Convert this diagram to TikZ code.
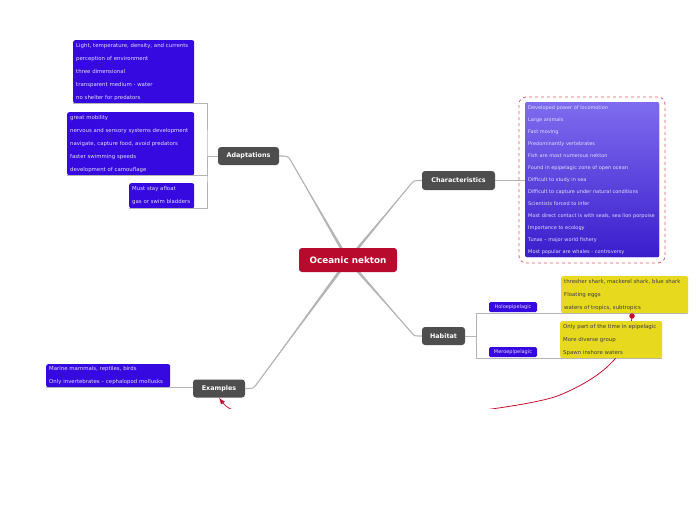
\documentclass[tikz,border=0pt]{standalone}
\usepackage{fontspec}
\setmainfont{DejaVu Sans}
\usetikzlibrary{arrows.meta,calc}
\usepackage{xcolor}
\definecolor{rootred}{HTML}{B80A2C}
\definecolor{topicgray}{HTML}{4E4E4E}
\definecolor{leafblue}{HTML}{3609E0}
\definecolor{leaftext}{HTML}{E2DCFF}
\definecolor{noteyellow}{HTML}{E6D91E}
\definecolor{branchgray}{HTML}{B4B4B4}
\definecolor{relred}{HTML}{C8102E}
\definecolor{violettop}{HTML}{7E6CEF}
\definecolor{violetmid}{HTML}{4E36DA}
\definecolor{violetbot}{HTML}{3A1DCC}

\begin{document}
\begin{tikzpicture}[x=1pt, y=-1pt, >=Latex,
  root/.style={rounded corners=3pt, fill=rootred, text=white, inner sep=0pt,
    minimum width=98, minimum height=24, font=\fontsize{8.8}{9}\selectfont\bfseries},
  topic/.style={rounded corners=3pt, fill=topicgray, text=white, inner sep=0pt,
    minimum height=18, font=\fontsize{6.4}{7}\selectfont\bfseries},
  leafbox/.style={anchor=north west, rounded corners=2pt, fill=leafblue, text=leaftext,
    align=left, inner xsep=3pt, inner ysep=0pt, font=\fontsize{5.4}{13}\selectfont},
  notebox/.style={leafbox, fill=noteyellow, text=black!75},
  subtopic/.style={rounded corners=1.5pt, fill=leafblue, text=leaftext, inner sep=0pt,
    minimum width=48, minimum height=10, font=\fontsize{5}{6}\selectfont},
  charnote/.style={leafbox, top color=violettop, middle color=violetmid, bottom color=violetbot,
    font=\fontsize{5}{12}\selectfont},
  frame/.style={draw=relred!70, dashed, line width=0.8pt, rounded corners=7pt,
    minimum width=146, minimum height=166, inner sep=0pt},
  branch/.style={draw=branchgray, line width=1.1pt},
  taper/.style={fill=branchgray},
  twig/.style={draw=branchgray, line width=0.7pt},
  relation/.style={->, draw=relred, line width=0.8pt},
  reldot/.style={circle, fill=relred, inner sep=0pt, minimum size=5.5pt}
]
\useasboundingbox (0,0) rectangle (697,520);
\coordinate (hub) at (348,260);
\coordinate (adaptbend) at (291,161);
\coordinate (charbend) at (411,184);
\coordinate (habbend) at (411,332);
\coordinate (exbend) at (256,385);
% main topics
\node[topic, minimum width=61] (adapt) at (248.5,156) {Adaptations};
\node[topic, minimum width=73, minimum height=19] (chars) at (458.5,180.5) {Characteristics};
\node[topic, minimum width=43] (habitat) at (443.5,336) {Habitat};
\node[topic, minimum width=52] (examples) at (219,388.5) {Examples};
\draw[branch] (hub) -- (adaptbend) .. controls (288,156) .. (adapt.east);
\draw[branch] (hub) -- (charbend) .. controls (414,180.5) .. (chars.west);
\draw[branch] (hub) -- (habbend) .. controls (414,336) .. (habitat.west);
\draw[branch] (hub) -- (exbend) .. controls (253,388.5) .. (examples.east);
\foreach \tip in {adaptbend, charbend, habbend, exbend}
  \fill[taper] ($(hub)!1.6pt!90:(\tip)$) -- (\tip) -- ($(hub)!1.6pt!-90:(\tip)$) -- cycle;
\node[root] (nekton) at (hub) {Oceanic nekton};
% adaptations
\node[leafbox, text width=115, minimum height=63] (envir) at (73,40) {Light, temperature, density, and currents\\perception of environment\\three dimensional\\transparent medium - water\\no shelter for predators};
\node[leafbox, text width=121, minimum height=63] (mobility) at (67,112) {great mobility\\nervous and sensory systems development\\navigate, capture food, avoid predators\\faster swimming speeds\\development of camouflage};
\node[leafbox, text width=59, minimum height=25] (afloat) at (129,183) {Must stay afloat\\gas or swim bladders};
\coordinate (adaptfork) at (207,156);
\draw[twig] (adapt.west) -- (adaptfork);
\draw[twig] (envir.south west) -| (adaptfork) |- (afloat.south west);
\draw[twig] (mobility.south west) -| (adaptfork);
% characteristics
\node[frame] (charframe) at (592,180) {};
\node[charnote, text width=128, minimum height=155] (traits) at (525,102) {\rule{0pt}{5.5pt}Developed power of locomotion\\Large animals\\Fast moving\\Predominantly vertebrates\\Fish are most numerous nekton\\Found in epipelagic zone of open ocean\\Difficult to study in sea\\Difficult to capture under natural conditions\\Scientists forced to infer\\Most direct contact is with seals, sea lion porpoise\\Importance to ecology\\Tunas -- major world fishery\\Most popular are whales - controversy};
\draw[twig] (chars.east) -- (chars.east -| traits.west);
% examples
\node[leafbox, text width=118, minimum height=23] (marine) at (46,364) {Marine mammals, reptiles, birds\\Only invertebrates -- cephalopod mollusks};
\draw[twig] (marine.south west) -- (marine.south west -| examples.west);
% habitat
\node[subtopic] (holo) at (513,307) {Holoepipelagic};
\node[subtopic] (mero) at (513,352) {Meroepipelagic};
\node[notebox, text width=121, minimum height=37] (sharks) at (561,276) {thresher shark, mackerel shark, blue shark\\Floating eggs\\waters of tropics, subtropics};
\coordinate (habfork) at (476,336);
\draw[twig] (habitat.east) -- (habfork);
\draw[twig] (habfork) |- (sharks.south east);
\draw[twig] (habfork) |- (662,358);
\coordinate (relstart) at (632,316);
\begin{scope}
\clip (0,0) rectangle (697,408);
\draw[relation] (relstart) .. controls (630,345) and (615,372) .. (560,395)
  .. controls (520,412) and (250,440) .. (examples.south);
\end{scope}
\node[notebox, text width=96, minimum height=37] (diverse) at (560,321) {Only part of the time in epipelagic\\More diverse group\\Spawn inshore waters};
\node[reldot] (reldotnode) at (relstart) {};
\end{tikzpicture}
\end{document}
